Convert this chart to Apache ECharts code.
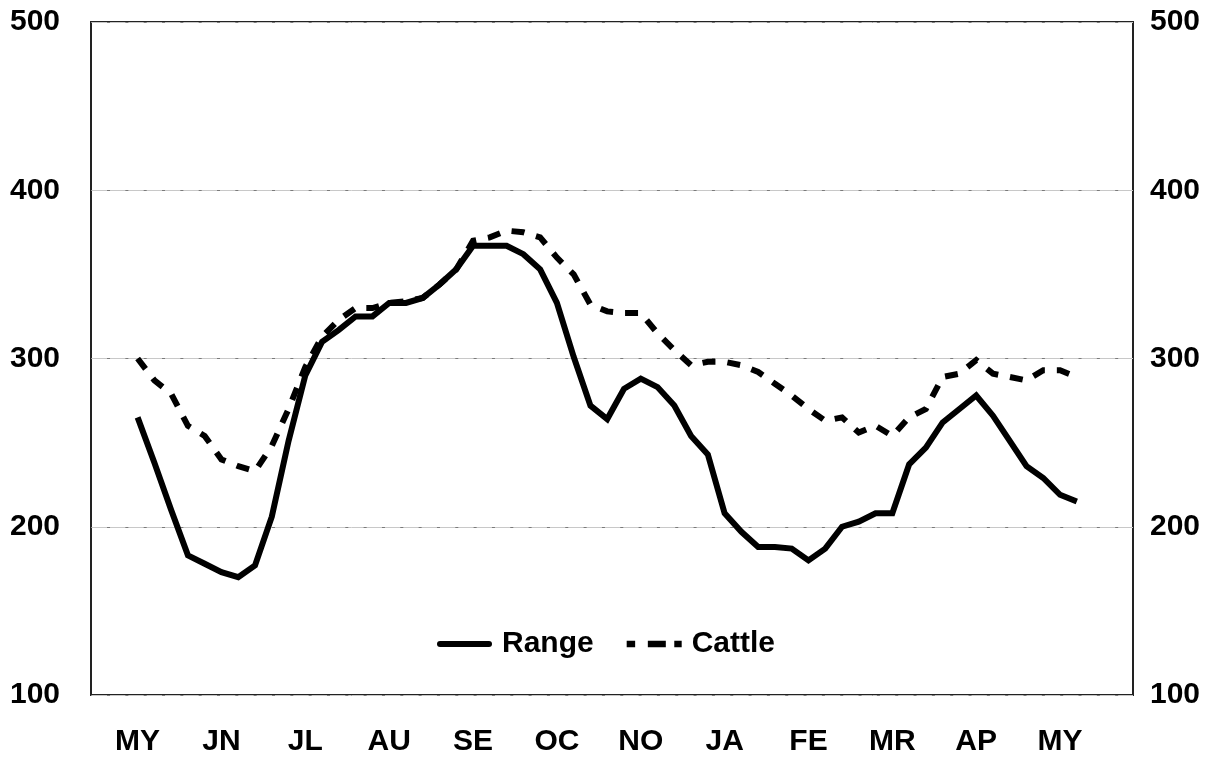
<!DOCTYPE html>
<html>
<head>
<meta charset="utf-8">
<script src="https://cdn.jsdelivr.net/npm/echarts@6/dist/echarts.min.js"></script>
<style>
html,body{margin:0;padding:0;background:#fff;}
#chart{width:1217px;height:758px;}
</style>
</head>
<body>
<div id="chart"></div>
<script>
// weekly observation index 0..56
var monthLabels = ['MY','JN','JL','AU','SE','OC','NO','JA','FE','MR','AP','MY'];
var monthTickIndex = [0,5,10,15,20,25,30,35,40,45,50,55];
var yTicks = [100,200,300,400,500];

var rangeValues = [265,238,210,183,178,173,170,177,206,251,290,310,317,325,325,333,333,336,344,353,
                   367,367,367,362,353,333,301,272,264,282,288,283,272,254,243,208,197,188,188,187,
                   180,187,200,203,208,208,237,247,262,270,278,266,251,236,229,219,215];
var cattleValues = [300,287,279,260,254,240,236,233,248,270,295,313,323,330,330,333,334,336,344,353,
                    370,372,376,375,372,360,350,332,328,327,327,315,305,296,298,298,296,292,285,278,
                    270,263,265,256,260,254,265,270,289,291,299,291,289,287,293,293,289];

function toPairs(arr){ return arr.map(function(v,i){ return [i, v]; }); }
var labelMap = {};
monthTickIndex.forEach(function(idx,k){ labelMap[idx] = monthLabels[k]; });

var FONT = "'Liberation Sans', Arial, Helvetica, sans-serif";
var solidIcon = 'path://M3,0H52A3,3 0 0 1 52,6H3A3,3 0 0 1 3,0Z';
var dashIcon = 'path://M0,0H8V6H0Z M20,0H37V6H20Z M45,0H52V6H45Z';

var chart = echarts.init(document.getElementById('chart'), null, {renderer:'canvas'});
chart.setOption({
  backgroundColor:'#ffffff',
  animation:false,
  grid:{left:91, right:84, top:22, bottom:63, show:true, borderColor:'#222', borderWidth:2, backgroundColor:'transparent'},
  legend:{
    left:432, top:624, itemWidth:55, itemHeight:7, itemGap:33,
    textStyle:{fontFamily:FONT, fontWeight:'bold', fontSize:30, color:'#000', padding:[0,0,0,5]},
    itemStyle:{color:'#000', borderWidth:0},
    data:[{name:'Range', icon:solidIcon},{name:'Cattle', icon:dashIcon}]
  },
  xAxis:{
    type:'value', min:-2.78, max:59.35,
    axisLine:{show:false}, axisTick:{show:false}, splitLine:{show:false},
    axisLabel:{
      customValues: monthTickIndex,
      formatter:function(v){ return labelMap[Math.round(v)] || ''; },
      fontFamily:FONT, fontWeight:'bold', fontSize:30, color:'#000', margin:32
    }
  },
  yAxis:[{
    type:'value', min:100, max:500, interval:100, position:'left',
    axisLine:{show:false}, axisTick:{show:false},
    splitLine:{show:true, lineStyle:{color:'#c8c8c8', width:1, type:'solid'}},
    axisLabel:{fontFamily:FONT, fontWeight:'bold', fontSize:30, color:'#000', margin:31, padding:[6,0,0,0]}
  },{
    type:'value', min:100, max:500, interval:100, position:'right',
    axisLine:{show:false}, axisTick:{show:false},
    splitLine:{show:true, lineStyle:{color:'#7a7a7a', width:1, type:[3,15.33], dashOffset:2.3}},
    axisLabel:{fontFamily:FONT, fontWeight:'bold', fontSize:30, color:'#000', margin:17, padding:[6,0,0,0]}
  }],
  series:[{
    name:'Range', type:'line', yAxisIndex:0, data:toPairs(rangeValues),
    symbol:'none', smooth:false, color:'#000',
    lineStyle:{color:'#000', width:6, type:'solid', cap:'butt', join:'miter'}
  },{
    name:'Cattle', type:'line', yAxisIndex:0, data:toPairs(cattleValues),
    symbol:'none', smooth:false, color:'#000',
    lineStyle:{color:'#000', width:6, type:[13,12], cap:'butt', join:'miter'}
  }]
});
</script>
</body>
</html>
